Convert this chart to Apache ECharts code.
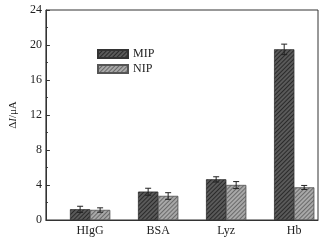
<!DOCTYPE html>
<html>
<head>
<meta charset="utf-8">
<script src="https://cdn.jsdelivr.net/npm/echarts@6/dist/echarts.min.js"></script>
<style>
  html, body { margin: 0; padding: 0; background: #fff; }
  #chart { width: 332px; height: 241px; }
</style>
</head>
<body>
<div id="chart"></div>
<script>
var categories = ['HIgG', 'BSA', 'Lyz', 'Hb'];
var mipValues = [1.22, 3.23, 4.64, 19.5];
var mipErrors = [0.35, 0.4, 0.3, 0.6];
var nipValues = [1.14, 2.74, 3.99, 3.72];
var nipErrors = [0.25, 0.38, 0.4, 0.23];
var yTicks = [0, 4, 8, 12, 16, 20, 24];

var chart = echarts.init(document.getElementById('chart'), null, { renderer: 'canvas' });
var serif = '"Liberation Serif", "DejaVu Serif", serif';

function toPoints(vals) {
  return vals.map(function (v, i) { return [i, v]; });
}
function toErr(vals, errs, side) {
  return vals.map(function (v, i) { return [i, v - errs[i], v + errs[i], side]; });
}

// error bar: vertical line with caps, shifted onto the MIP (-1) or NIP (+1) bar
function renderErr(params, api) {
  var side = api.value(3);
  var lo = api.coord([api.value(0), api.value(1)]);
  var hi = api.coord([api.value(0), api.value(2)]);
  var x = lo[0] + side * 10;
  var cap = 3;
  var style = { stroke: '#222', lineWidth: 1 };
  return {
    type: 'group',
    children: [
      { type: 'line', shape: { x1: x, y1: lo[1], x2: x, y2: hi[1] }, style: style },
      { type: 'line', shape: { x1: x - cap, y1: hi[1], x2: x + cap, y2: hi[1] }, style: style },
      { type: 'line', shape: { x1: x - cap, y1: lo[1], x2: x + cap, y2: lo[1] }, style: style }
    ]
  };
}

var mipDecal = { symbol: 'rect', symbolSize: 1, dashArrayX: [1, 0], dashArrayY: [1, 2], rotation: -Math.PI / 4, color: 'rgba(30,30,30,0.8)' };
var nipDecal = { symbol: 'rect', symbolSize: 1, dashArrayX: [1, 0], dashArrayY: [1, 2], rotation: -Math.PI / 4, color: 'rgba(90,90,90,0.8)' };

var option = {
  backgroundColor: '#fff',
  animation: false,
  grid: {
    left: 36, right: 14, top: 10, bottom: 21,
    show: true, borderColor: '#333', borderWidth: 1
  },
  legend: {
    orient: 'vertical',
    left: 92, top: 43,
    icon: 'rect',
    itemWidth: 30, itemHeight: 8, itemGap: 3,
    textStyle: { fontFamily: serif, fontSize: 12, color: '#222' },
    data: ['MIP', 'NIP']
  },
  xAxis: {
    type: 'value',
    min: -0.65, max: 3.35,
    splitLine: { show: false },
    axisLine: { onZero: false, lineStyle: { color: '#333' } },
    axisTick: { show: false },
    axisLabel: {
      customValues: [0, 1, 2, 3],
      formatter: function (v) { return categories[Math.round(v)]; },
      fontFamily: serif, fontSize: 12, color: '#222', margin: 5
    }
  },
  yAxis: {
    type: 'value',
    min: 0, max: 24, interval: 4,
    name: '{d|Δ}{i|I}{d|/μA}',
    nameLocation: 'middle',
    nameRotate: 90,
    nameGap: 22,
    nameTextStyle: {
      rich: {
        d: { fontFamily: serif, fontSize: 11, color: '#222' },
        i: { fontFamily: serif, fontSize: 11, fontStyle: 'italic', color: '#222' }
      }
    },
    splitLine: { show: false },
    axisLine: { show: true, onZero: false, lineStyle: { color: '#333' } },
    axisTick: { inside: true, length: 4, lineStyle: { color: '#333' } },
    minorTick: { show: true, splitNumber: 2, length: 2, lineStyle: { color: '#333' } },
    axisLabel: {
      customValues: yTicks,
      fontFamily: serif, fontSize: 12, color: '#222', margin: 4
    }
  },
  series: [
    {
      name: 'MIP', type: 'bar', barWidth: 20, barGap: '0%',
      data: toPoints(mipValues),
      itemStyle: { color: '#5a5a5a', borderColor: '#333', borderWidth: 0.5, decal: mipDecal }
    },
    {
      name: 'NIP', type: 'bar', barWidth: 20, barGap: '0%',
      data: toPoints(nipValues),
      itemStyle: { color: '#a8a8a8', borderColor: '#555', borderWidth: 0.5, decal: nipDecal }
    },
    {
      type: 'custom', renderItem: renderErr, z: 5,
      data: toErr(mipValues, mipErrors, -1)
    },
    {
      type: 'custom', renderItem: renderErr, z: 5,
      data: toErr(nipValues, nipErrors, 1)
    }
  ]
};

chart.setOption(option);
</script>
</body>
</html>
